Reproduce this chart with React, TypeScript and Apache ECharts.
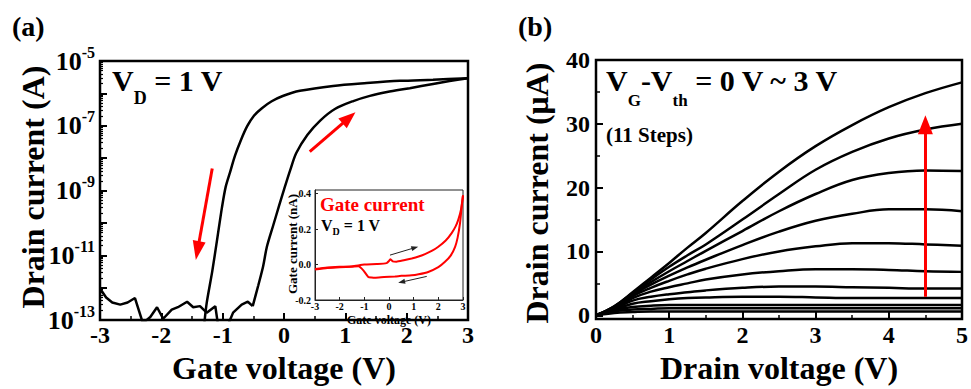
import React, { useEffect, useRef } from "react";
import * as echarts from "echarts";

const FONT = "'Liberation Serif', 'Times New Roman', Times, serif";
const BLACK = "#000";
const RED = "#ff0000";

// ---------- Panel (a): transfer curve, drain current (A) vs gate voltage (V) ----------
// forward sweep, off-state noise part
const fwdNoiseV = [
  -3.0, -2.9, -2.8, -2.67, -2.55, -2.43, -2.3, -2.18, -2.07, -1.97, -1.83, -1.73, -1.58, -1.48,
  -1.37, -1.26, -1.12, -1.07, -0.95, -0.88, -0.83, -0.69, -0.59, -0.51,
];
const fwdNoiseI = [
  9.5e-13, 5.0e-13, 3.5e-13, 3.0e-13, 3.5e-13, 4.8e-13, 8e-14, 1.25e-13, 2.5e-13, 1.1e-13,
  2.1e-13, 2.5e-13, 3.7e-13, 2.5e-13, 2.7e-13, 1.7e-13, 2.7e-13, 6e-14, 5e-14, 1e-13, 1.7e-13,
  3e-13, 3.7e-13, 2.7e-13,
];
// forward sweep, turn-on part
const fwdOnV = [
  -0.51, -0.42, -0.34, -0.28, -0.18, -0.08, 0.0, 0.1, 0.2, 0.38, 0.59, 0.83, 1.13, 1.4, 1.68,
  2.05, 2.43, 2.7, 3.0,
];
const fwdOnI = [
  2.7e-13, 1.17e-12, 4.6e-12, 1.8e-11, 7.9e-11, 3.4e-10, 1.07e-9, 4.2e-9, 1.44e-8, 5.2e-8,
  1.45e-7, 3.3e-7, 5.8e-7, 8.4e-7, 1.1e-6, 1.45e-6, 1.95e-6, 2.4e-6, 2.95e-6,
];
// reverse sweep
const revGateV = [
  3.0, 2.43, 1.89, 1.35, 0.8, 0.26, -0.02, -0.2, -0.36, -0.49, -0.6, -0.7, -0.8, -0.88, -0.95,
  -1.01, -1.09, -1.17, -1.26, -1.3,
];
const revDrainI = [
  2.93e-6, 2.64e-6, 2.44e-6, 2.08e-6, 1.7e-6, 1.2e-6, 8.3e-7, 5.7e-7, 3.5e-7, 2.05e-7, 9.7e-8,
  3.7e-8, 1.17e-8, 3.65e-9, 1.32e-9, 3.13e-10, 3.1e-11, 3.2e-12, 3.4e-13, 7.6e-14,
];
// sweep-direction arrows [startV, startI, endV, endI]
const revArrow = [-1.17, 4.8e-9, -1.41, 1.4e-11];
const fwdArrow = [0.42, 1.6e-8, 1.06, 1.75e-7];

// ---------- Inset: gate current (nA) vs gate voltage (V) ----------
const gateFwdV = [
  -3, -2.5, -2, -1.5, -1, -0.5, -0.1, 0.0, 0.05, 0.15, 0.3, 0.6, 0.92, 1.2, 1.46, 1.75, 2.0,
  2.3, 2.54, 2.7, 2.81, 2.92, 3.0,
];
const gateFwdI = [
  -0.025, -0.017, -0.013, -0.01, 0.0, 0.003, 0.008, 0.02, 0.03, 0.018, 0.016, 0.024, 0.034,
  0.045, 0.059, 0.078, 0.1, 0.135, 0.177, 0.215, 0.253, 0.31, 0.39,
];
const gateRevV = [
  3.0, 2.95, 2.88, 2.78, 2.68, 2.5, 2.27, 2.0, 1.59, 1.2, 0.92, 0.5, 0.24, -0.2, -0.57, -0.7,
  -0.84, -1.04, -1.24, -1.5, -2, -2.5, -3,
];
const gateRevI = [
  0.39, 0.33, 0.234, 0.15, 0.1, 0.05, 0.015, -0.015, -0.042, -0.055, -0.061, -0.064, -0.067,
  -0.07, -0.074, -0.073, -0.07, -0.033, -0.01, -0.012, -0.015, -0.02, -0.028,
];
const gateFwdArrow = [0.04, 0.053, 1.05, 0.095];
const gateRevArrow = [1.53, -0.067, 0.51, -0.099];
const insetTicks = [-0.2, 0, 0.2, 0.4];

// ---------- Panel (b): output curves, drain current (uA) vs drain voltage (V) ----------
const drainV = [0, 0.25, 0.5, 0.75, 1, 1.25, 1.5, 2, 2.5, 3, 3.5, 4, 4.5, 5];
const id1 = [0, 1.4, 3.6, 5.9, 8.2, 10.6, 12.9, 17.9, 22.5, 26.5, 29.8, 32.6, 34.8, 36.5];
const id2 = [0, 1.4, 3.5, 5.6, 7.6, 9.4, 11.1, 15.0, 19.0, 22.8, 25.6, 27.7, 29.1, 30.0];
const id3 = [0, 1.3, 3.4, 5.2, 6.9, 8.5, 10.1, 13.2, 16.3, 19.0, 21.2, 22.3, 22.7, 22.6];
const id4 = [0, 1.3, 3.2, 4.8, 6.2, 7.5, 8.7, 11.0, 13.1, 14.8, 15.9, 16.6, 16.6, 16.3];
const id5 = [0, 1.2, 3.0, 4.3, 5.4, 6.4, 7.3, 8.8, 10.0, 10.8, 11.3, 11.3, 11.1, 10.9];
const id6 = [0, 1.1, 2.7, 3.7, 4.4, 5.0, 5.6, 6.4, 6.9, 7.2, 7.2, 7.1, 6.9, 6.8];
const id7 = [0, 1.0, 2.3, 2.9, 3.3, 3.6, 3.9, 4.3, 4.5, 4.5, 4.4, 4.3, 4.2, 4.2];
const id8 = [0, 0.9, 1.8, 2.2, 2.5, 2.7, 2.8, 2.9, 2.9, 2.8, 2.7, 2.7, 2.7, 2.7];
const id9 = [0, 0.8, 1.3, 1.5, 1.6, 1.6, 1.6, 1.6, 1.6, 1.6, 1.6, 1.6, 1.6, 1.6];
const id10 = [0, 0.6, 0.9, 1.0, 1.1, 1.1, 1.1, 1.1, 1.1, 1.1, 1.1, 1.1, 1.1, 1.1];
const id11 = [0, 0.35, 0.5, 0.6, 0.6, 0.6, 0.6, 0.6, 0.6, 0.6, 0.6, 0.6, 0.6, 0.6];
const outputCurves = [id1, id2, id3, id4, id5, id6, id7, id8, id9, id10, id11];
const stepArrow = [4.5, 2.9, 4.5, 29.85];
const outMajorTicks = [0, 10, 20, 30, 40];
const outMinorTicks = [5, 15, 25, 35];

const zip = (xs: number[], ys: number[]) => xs.map((x, i) => [x, ys[i]]);

const txt = (size: number, extra: any = {}) => ({
  color: BLACK,
  fontFamily: FONT,
  fontWeight: "bold",
  fontSize: size,
  ...extra,
});

const axLine = { show: true, onZero: false, lineStyle: { color: BLACK, width: 2 } };

function arrowMarkLine(a: number[], color: string, width: number, size: number[]) {
  return {
    silent: true,
    animation: false,
    symbol: ["none", "triangle"],
    symbolSize: size,
    label: { show: false },
    emphasis: { disabled: true },
    lineStyle: { color, width, type: "solid" },
    data: [[{ coord: [a[0], a[1]] }, { coord: [a[2], a[3]] }]],
  };
}

function buildOption(): any {
  const richTok = (size: number, lh: number, va: string, color = BLACK) => ({
    fontFamily: FONT,
    fontWeight: "bold",
    fontSize: size,
    lineHeight: lh,
    verticalAlign: va,
    fill: color,
  });

  const lineA = (data: number[][], smooth: number | boolean) => ({
    type: "line", xAxisIndex: 0, yAxisIndex: 0, data,
    showSymbol: false, clip: true, smooth,
    lineStyle: { color: BLACK, width: 2.5 },
  });

  return {
    animation: false,
    backgroundColor: "#fff",
    grid: [
      { left: 100, top: 61, width: 368, height: 270, show: true, borderColor: BLACK, borderWidth: 2.5, containLabel: false },
      { left: 315, top: 190, width: 148, height: 110, show: true, borderColor: "#222", borderWidth: 1, containLabel: false },
      { left: 596, top: 60, width: 367, height: 270, show: true, borderColor: BLACK, borderWidth: 2.5, containLabel: false },
    ],
    xAxis: [
      {
        gridIndex: 0, type: "value", min: -3, max: 3, interval: 1,
        axisLine: axLine,
        axisTick: { inside: true, length: 7, lineStyle: { color: BLACK, width: 2 } },
        minorTick: { show: true, splitNumber: 2, length: 4, lineStyle: { color: BLACK, width: 1.5 } },
        splitLine: { show: false },
        axisLabel: txt(24, { margin: 3, lineHeight: 24 }),
        name: "Gate voltage (V)", nameLocation: "middle", nameGap: 27,
        nameTextStyle: txt(32),
      },
      {
        gridIndex: 1, type: "value", min: -3, max: 3, interval: 1,
        axisLine: { show: true, onZero: false, lineStyle: { color: "#222", width: 1 } },
        axisTick: { inside: true, length: 3, lineStyle: { color: "#222", width: 1 } },
        splitLine: { show: false },
        axisLabel: txt(10, { margin: 1, lineHeight: 10 }),
        name: "Gate voltage (V)", nameLocation: "middle", nameGap: 14,
        nameTextStyle: txt(12, { lineHeight: 12 }),
      },
      {
        gridIndex: 2, type: "value", min: 0, max: 5, interval: 1,
        axisLine: axLine,
        axisTick: { inside: true, length: 7, lineStyle: { color: BLACK, width: 2 } },
        minorTick: { show: true, splitNumber: 2, length: 4, lineStyle: { color: BLACK, width: 1.5 } },
        splitLine: { show: false },
        axisLabel: txt(24, { margin: 4 }),
        name: "Drain voltage (V)", nameLocation: "middle", nameGap: 28,
        nameTextStyle: txt(32),
      },
    ],
    yAxis: [
      {
        gridIndex: 0, type: "log", logBase: 10, min: 1e-13, max: 1e-5,
        axisLine: axLine,
        axisTick: { inside: true, length: 7, lineStyle: { color: BLACK, width: 2 } },
        minorTick: { show: true, splitNumber: 9, length: 3, lineStyle: { color: BLACK, width: 1.2 } },
        splitLine: { show: false },
        axisLabel: {
          ...txt(26, { margin: 5 }),
          showMinLabel: true,
          showMaxLabel: true,
          formatter: (v: number) => {
            const e = Math.round(Math.log10(v));
            return Math.abs(e) % 2 === 1 ? `{b|10}{s|${e}}` : "";
          },
          rich: {
            b: { fontFamily: FONT, fontWeight: "bold", fontSize: 26, lineHeight: 26, verticalAlign: "middle", color: BLACK },
            s: { fontFamily: FONT, fontWeight: "bold", fontSize: 16, lineHeight: 34, verticalAlign: "top", color: BLACK },
          },
        },
      },
      {
        gridIndex: 1, type: "value", min: -0.2, max: 0.42,
        axisLine: { show: true, onZero: false, lineStyle: { color: "#222", width: 1 } },
        axisTick: { inside: true, length: 3, customValues: insetTicks, lineStyle: { color: "#222", width: 1 } },
        splitLine: { show: false },
        axisLabel: {
          ...txt(10, { margin: 4 }),
          customValues: insetTicks,
          formatter: (v: number) => v.toFixed(1),
        },
      },
      {
        gridIndex: 2, type: "value", min: -0.6, max: 40, position: "left",
        axisLine: axLine,
        axisTick: { inside: true, length: 7, customValues: outMajorTicks, lineStyle: { color: BLACK, width: 2 } },
        splitLine: { show: false },
        axisLabel: { ...txt(24, { margin: 6 }), customValues: outMajorTicks },
      },
      {
        gridIndex: 2, type: "value", min: -0.6, max: 40, position: "left", offset: 0,
        axisLine: { show: false, onZero: false },
        axisTick: { inside: true, length: 4, customValues: outMinorTicks, lineStyle: { color: BLACK, width: 1.5 } },
        splitLine: { show: false },
        axisLabel: { show: false },
      },
    ],
    series: [
      { ...lineA(zip(fwdNoiseV, fwdNoiseI), false) },
      { ...lineA(zip(fwdOnV, fwdOnI), 0.3), markLine: arrowMarkLine(fwdArrow, RED, 3, [13, 17]) },
      { ...lineA(zip(revGateV, revDrainI), 0.3), markLine: arrowMarkLine(revArrow, RED, 3, [13, 19]) },
      {
        type: "line", xAxisIndex: 1, yAxisIndex: 1, data: zip(gateFwdV, gateFwdI),
        showSymbol: false, clip: true, smooth: 0.2,
        lineStyle: { color: RED, width: 2 },
        markLine: arrowMarkLine(gateFwdArrow, "#222", 1, [5, 7]),
      },
      {
        type: "line", xAxisIndex: 1, yAxisIndex: 1, data: zip(gateRevV, gateRevI),
        showSymbol: false, clip: true, smooth: 0.2,
        lineStyle: { color: RED, width: 2 },
        markLine: arrowMarkLine(gateRevArrow, "#222", 1, [5, 7]),
      },
      ...outputCurves.map((c, i) => ({
        type: "line", xAxisIndex: 2, yAxisIndex: 2, data: zip(drainV, c),
        showSymbol: false, clip: true, smooth: 0.4, z: 2,
        lineStyle: { color: BLACK, width: 2.5 },
        ...(i === 0 ? { markLine: arrowMarkLine(stepArrow, RED, 3, [15, 19]) } : {}),
      })),
    ],
    graphic: [
      { type: "text", x: 12, y: 26, style: { text: "(a)", fill: BLACK, font: `bold 28px ${FONT}`, align: "left", verticalAlign: "middle" } },
      { type: "text", x: 518, y: 26, style: { text: "(b)", fill: BLACK, font: `bold 28px ${FONT}`, align: "left", verticalAlign: "middle" } },
      {
        type: "text", x: 33, y: 187, rotation: Math.PI / 2,
        style: { text: "Drain current (A)", fill: BLACK, font: `bold 32px ${FONT}`, align: "center", verticalAlign: "middle" },
      },
      {
        type: "text", x: 537, y: 193, rotation: Math.PI / 2,
        style: { text: "Drain current (\u03bcA)", fill: BLACK, font: `bold 32px ${FONT}`, align: "center", verticalAlign: "middle" },
      },
      {
        type: "text", x: 292, y: 244, rotation: Math.PI / 2,
        style: { text: "Gate current (nA)", fill: BLACK, font: `bold 13px ${FONT}`, align: "center", verticalAlign: "middle" },
      },
      {
        type: "text", x: 112, y: 65,
        style: {
          text: "{m|V}{d|D}{m| = 1 V}", align: "left", verticalAlign: "top",
          rich: { m: richTok(30, 30, "top"), d: richTok(18, 42, "bottom") },
        },
      },
      {
        type: "text", x: 606, y: 65,
        style: {
          text: "{m|V}{d|G}{m|-V}{d|th}{m| = 0 V ~ 3 V}", align: "left", verticalAlign: "top",
          rich: { m: richTok(30, 30, "top"), d: richTok(17, 44, "bottom") },
        },
      },
      { type: "text", x: 606, y: 135, style: { text: "(11 Steps)", fill: BLACK, font: `bold 21px ${FONT}`, align: "left", verticalAlign: "middle" } },
      { type: "text", x: 320, y: 204, style: { text: "Gate current", fill: RED, font: `bold 19px ${FONT}`, align: "left", verticalAlign: "middle" } },
      {
        type: "text", x: 321, y: 217.3,
        style: {
          text: "{m|V}{d|D}{m| = 1 V}", align: "left", verticalAlign: "top",
          rich: { m: richTok(16, 16, "top"), d: richTok(10, 19.5, "bottom") },
        },
      },
    ],
  };
}

export default function App() {
  const ref = useRef<HTMLDivElement>(null);
  useEffect(() => {
    if (!ref.current) return;
    const chart = echarts.init(ref.current, null, { renderer: "svg" });
    chart.setOption(buildOption());
    return () => chart.dispose();
  }, []);
  return (
    <div
      ref={ref}
      style={{ position: "fixed", left: 0, top: 0, width: 971, height: 389, background: "#fff" }}
    />
  );
}
